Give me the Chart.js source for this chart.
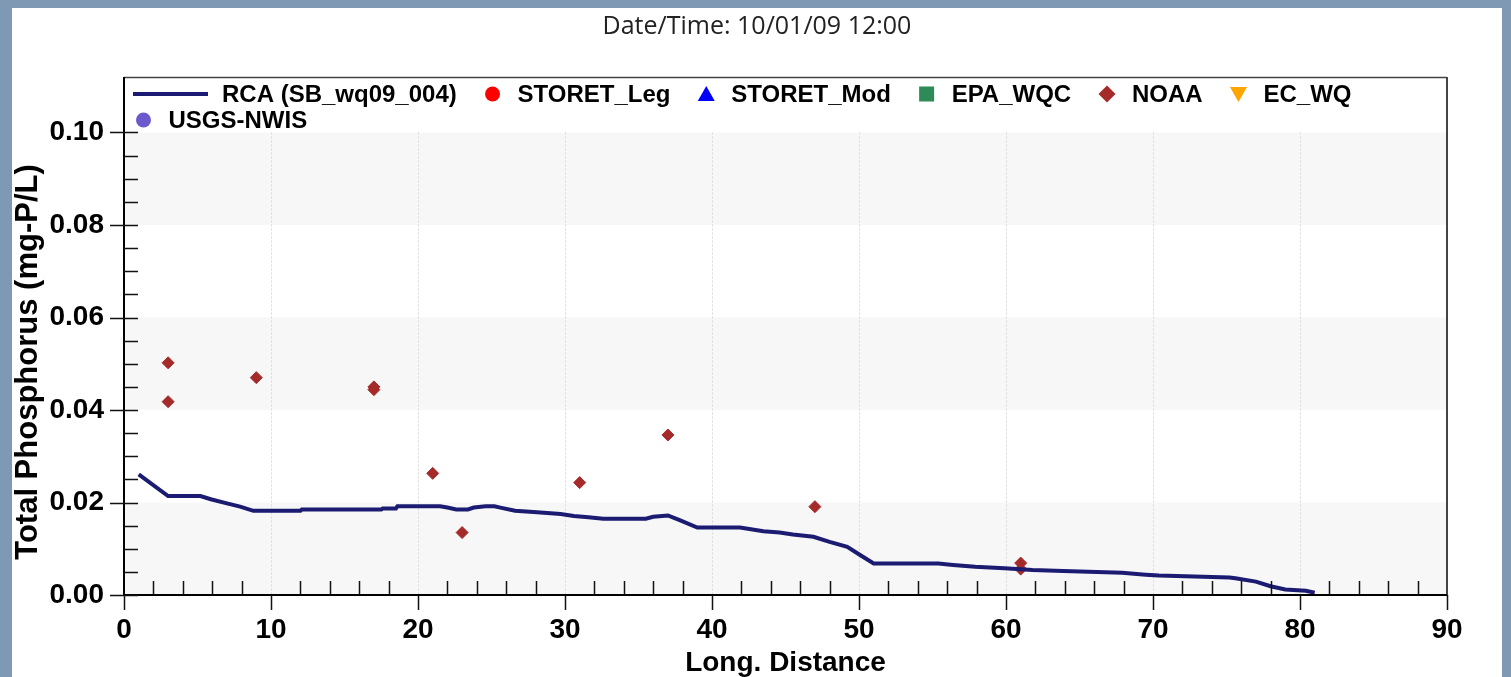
<!DOCTYPE html>
<html>
<head>
<meta charset="utf-8">
<title>Total Phosphorus profile</title>
<script src="https://cdn.jsdelivr.net/npm/chart.js@4.4.0/dist/chart.umd.min.js"></script>
<style>
  html, body { margin: 0; padding: 0; background: #7f98b3; overflow: hidden; }
  #frame { position: absolute; left: 12px; top: 8px; width: 1490px; height: 669px; background: #fff; }
</style>
</head>
<body>
<div id="frame"><canvas id="profile-chart" width="1490" height="669"></canvas></div>
<script>
// model profile (RCA run SB_wq09_004)
const rcaDistance = [1.0, 3.0, 5.2, 5.9, 7.0, 7.9, 8.8, 12.0, 12.1, 17.5, 17.6, 18.5, 18.6, 21.5,
    22.0, 22.6, 23.4, 23.8, 24.6, 25.2, 25.6, 26.6, 28.1, 29.7, 30.6, 31.6, 32.6, 35.5,
    36.0, 37.0, 37.8, 39.0, 41.9, 43.5, 44.6, 45.5, 46.9, 48.0, 49.2, 50.1, 51.0, 55.4,
    56.4, 57.9, 59.9, 61.8, 63.9, 67.9, 69.5, 70.4, 75.2, 75.6, 77.0, 78.0, 79.0, 80.4, 81.0];
const rcaPhosphorus = [0.0261, 0.0214, 0.0214, 0.0207, 0.0198, 0.0191, 0.0182, 0.0182, 0.0185, 0.0185, 0.0187, 0.0187, 0.0192, 0.0192,
    0.0189, 0.0185, 0.0185, 0.0189, 0.0192, 0.0192, 0.0189, 0.0182, 0.0179, 0.0175, 0.0171, 0.0168, 0.0165, 0.0165,
    0.0169, 0.0172, 0.0162, 0.0146, 0.0146, 0.0138, 0.0135, 0.0131, 0.0126, 0.0115, 0.0104, 0.0086, 0.0068, 0.0068,
    0.0065, 0.0061, 0.0058, 0.0054, 0.0052, 0.0048, 0.0044, 0.0042, 0.0038, 0.0036, 0.0029, 0.0019, 0.0012, 0.0009, 0.0005];

// observations
const noaaDistance = [3, 3, 9, 17, 17, 21, 23, 31, 37, 47, 61, 61];
const noaaPhosphorus = [0.0502, 0.0418, 0.0470, 0.0450, 0.0444, 0.0263, 0.0135, 0.0243, 0.0346, 0.0191, 0.0069, 0.0056];

const xTickValues = [0, 10, 20, 30, 40, 50, 60, 70, 80, 90];
const yTickValues = [0, 0.02, 0.04, 0.06, 0.08, 0.10];

const chartTitle = 'Date/Time: 10/01/09 12:00';

const toPoints = (xs, ys) => xs.map((x, i) => ({ x: x, y: ys[i] }));

Chart.defaults.font.family = "'Liberation Sans', Arial, sans-serif";
Chart.defaults.color = '#000';

// bands, grid, axes with inner/outer ticks, frame and the in-plot legend
const chartFrame = {
    id: 'chartFrame',
    beforeDatasetsDraw(chart) {
        const { ctx, chartArea: area, scales: { x, y } } = chart;
        const top = y.getPixelForValue(0.10);
        ctx.save();
        ctx.fillStyle = '#f7f7f7';
        [[0, 0.02], [0.04, 0.06], [0.08, 0.10]].forEach(([lo, hi]) => {
            const t = y.getPixelForValue(hi);
            ctx.fillRect(area.left, t, area.right - area.left, y.getPixelForValue(lo) - t);
        });
        ctx.strokeStyle = '#d8d8d8';
        ctx.lineWidth = 1;
        ctx.setLineDash([2, 2]);
        xTickValues.slice(1, -1).forEach(v => {
            const px = Math.round(x.getPixelForValue(v)) + 0.5;
            ctx.beginPath();
            ctx.moveTo(px, top);
            ctx.lineTo(px, area.bottom);
            ctx.stroke();
        });
        ctx.restore();
    },
    afterDatasetsDraw(chart) {
        const { ctx, chartArea: area, scales: { x, y } } = chart;
        ctx.save();

        // frame top / right
        ctx.strokeStyle = '#444';
        ctx.lineWidth = 1.5;
        ctx.beginPath();
        ctx.moveTo(area.left, area.top + 0.5);
        ctx.lineTo(area.right, area.top + 0.5);
        ctx.stroke();
        ctx.lineWidth = 2;
        ctx.beginPath();
        ctx.moveTo(area.right, area.top);
        ctx.lineTo(area.right, area.bottom);
        ctx.stroke();

        // axes
        ctx.strokeStyle = '#000';
        ctx.lineWidth = 2;
        ctx.beginPath();
        ctx.moveTo(area.left, area.top);
        ctx.lineTo(area.left, area.bottom);
        ctx.moveTo(area.left, area.bottom);
        ctx.lineTo(area.right, area.bottom);
        ctx.stroke();

        // ticks
        ctx.strokeStyle = '#111';
        ctx.lineWidth = 1.5;
        ctx.beginPath();
        for (let k = 0; k <= 20; k++) {
            const py = Math.round(y.getPixelForValue(k * 0.005)) + 0.5;
            if (k % 4 === 0) {
                ctx.moveTo(area.left - 14, py);
                ctx.lineTo(area.left + 14, py);
            } else {
                ctx.moveTo(area.left, py);
                ctx.lineTo(area.left + 14, py);
            }
        }
        for (let v = 0; v <= 90; v += 2) {
            const px = Math.round(x.getPixelForValue(v)) + 0.5;
            if (v % 10 === 0) {
                ctx.moveTo(px, area.bottom);
                ctx.lineTo(px, area.bottom + 15);
            } else {
                ctx.moveTo(px, area.bottom - 14);
                ctx.lineTo(px, area.bottom);
            }
        }
        ctx.stroke();

        // chart title, centred on the whole panel
        ctx.fillStyle = '#222';
        ctx.font = "25px 'Open Sans', sans-serif";
        ctx.textAlign = 'center';
        ctx.textBaseline = 'alphabetic';
        ctx.fillText(chartTitle, chart.width / 2, 26);

        // y axis title
        ctx.fillStyle = '#000';
        ctx.font = "bold 31px 'Liberation Sans', Arial, sans-serif";
        ctx.translate(25, 354);
        ctx.rotate(-Math.PI / 2);
        ctx.fillText('Total Phosphorus (mg-P/L)', 0, 0);
        ctx.restore();

        this.drawLegend(chart);
    },
    drawLegend(chart) {
        const { ctx, chartArea: area } = chart;
        ctx.save();
        ctx.font = "bold 24px 'Liberation Sans', Arial, sans-serif";
        ctx.textBaseline = 'middle';
        ctx.textAlign = 'left';
        const rowY = [area.top + 17, area.top + 43];
        let row = 0;
        let cx = area.left + 9;
        chart.data.datasets.forEach(ds => {
            const isLine = ds.showLine;
            const symW = isLine ? 75 : 16;
            const gap = isLine ? 14 : 17;
            const textW = ctx.measureText(ds.label).width;
            if (cx + symW + gap + textW > area.right - 10) {
                row += 1;
                cx = area.left + 11.5;
            }
            const cy = rowY[row];
            if (isLine) {
                ctx.strokeStyle = ds.borderColor;
                ctx.lineWidth = 4;
                ctx.beginPath();
                ctx.moveTo(cx, cy);
                ctx.lineTo(cx + symW, cy);
                ctx.stroke();
            } else {
                drawMarker(ctx, ds.pointStyle, ds.rotation || 0, cx + 8, cy, ds.backgroundColor);
            }
            ctx.fillStyle = '#000';
            ctx.fillText(ds.label, cx + symW + gap, cy + 1);
            cx += symW + gap + textW + 27.8;
        });
        ctx.restore();
    }
};

function drawMarker(ctx, style, rotation, cx, cy, color) {
    ctx.save();
    ctx.fillStyle = color;
    ctx.translate(cx, cy);
    ctx.rotate(rotation * Math.PI / 180);
    ctx.beginPath();
    if (style === 'circle') {
        ctx.arc(0, 0, 7.5, 0, Math.PI * 2);
    } else if (style === 'triangle') {
        ctx.moveTo(0, -8);
        ctx.lineTo(8.5, 7);
        ctx.lineTo(-8.5, 7);
        ctx.closePath();
    } else if (style === 'rect') {
        ctx.rect(-7.5, -7.5, 15, 15);
    } else if (style === 'rectRot') {
        ctx.moveTo(0, -8.5);
        ctx.lineTo(8.5, 0);
        ctx.lineTo(0, 8.5);
        ctx.lineTo(-8.5, 0);
        ctx.closePath();
    }
    ctx.fill();
    ctx.restore();
}

const ctx = document.getElementById('profile-chart').getContext('2d');
new Chart(ctx, {
    type: 'scatter',
    data: {
        datasets: [
            {
                label: 'RCA (SB_wq09_004)',
                data: toPoints(rcaDistance, rcaPhosphorus),
                showLine: true,
                borderColor: '#1b1b72',
                backgroundColor: '#1b1b72',
                borderWidth: 4,
                pointRadius: 0,
                tension: 0
            },
            { label: 'STORET_Leg', data: [], pointStyle: 'circle', backgroundColor: '#ff0000', borderColor: '#ff0000' },
            { label: 'STORET_Mod', data: [], pointStyle: 'triangle', backgroundColor: '#0000ff', borderColor: '#0000ff' },
            { label: 'EPA_WQC', data: [], pointStyle: 'rect', backgroundColor: '#2e8b57', borderColor: '#2e8b57' },
            {
                label: 'NOAA',
                data: toPoints(noaaDistance, noaaPhosphorus),
                pointStyle: 'rectRot',
                pointRadius: 6,
                borderWidth: 1,
                backgroundColor: '#a52a2a',
                borderColor: '#a52a2a'
            },
            { label: 'EC_WQ', data: [], pointStyle: 'triangle', rotation: 180, backgroundColor: '#ffa500', borderColor: '#ffa500' },
            { label: 'USGS-NWIS', data: [], pointStyle: 'circle', backgroundColor: '#6a5acd', borderColor: '#6a5acd' }
        ]
    },
    options: {
        responsive: false,
        animation: false,
        layout: { padding: { left: 0, right: 55, top: 69, bottom: 0 } },
        plugins: {
            legend: { display: false },
            tooltip: { enabled: false },
            title: { display: false }
        },
        scales: {
            x: {
                type: 'linear',
                min: 0,
                max: 90,
                afterBuildTicks: scale => { scale.ticks = xTickValues.map(v => ({ value: v })); },
                afterFit: scale => { scale.height = 82; },
                grid: { display: false, drawTicks: false },
                border: { display: false },
                ticks: { padding: 18, maxRotation: 0, autoSkip: false, font: { size: 28, weight: 'bold' } },
                title: {
                    display: true,
                    text: 'Long. Distance',
                    font: { size: 28, weight: 'bold', lineHeight: 1 },
                    padding: { top: 0, bottom: 0 }
                }
            },
            y: {
                min: 0,
                max: 0.112,
                afterBuildTicks: scale => { scale.ticks = yTickValues.map(v => ({ value: v })); },
                afterFit: scale => { scale.width = 112; },
                grid: { display: false, drawTicks: false },
                border: { display: false },
                ticks: { padding: 20, callback: v => v.toFixed(2), font: { size: 28, weight: 'bold' } }
            }
        }
    },
    plugins: [chartFrame]
});
</script>
</body>
</html>
